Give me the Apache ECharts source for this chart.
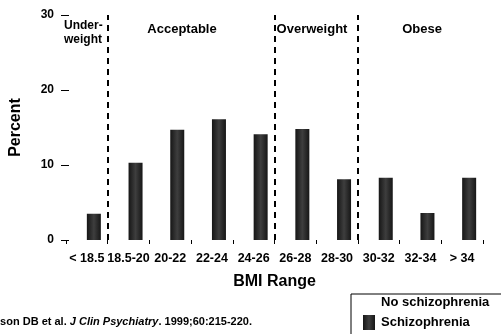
<!DOCTYPE html>
<html>
<head>
<meta charset="utf-8">
<script src="https://cdn.jsdelivr.net/npm/echarts@6/dist/echarts.min.js"></script>
<style>
html,body{margin:0;padding:0;background:#fff;}
#chart{width:501px;height:334px;}
</style>
</head>
<body>
<div id="chart"></div>
<script>
var categories = ['< 18.5', '18.5-20', '20-22', '22-24', '24-26', '26-28', '28-30', '30-32', '32-34', '> 34'];
var schizophrenia = [3.5, 10.3, 14.7, 16.1, 14.1, 14.8, 8.1, 8.3, 3.6, 8.3];
var noSchizophrenia = [];
var yTicks = [0, 10, 20, 30];
var regionBoundaries = [1, 5, 7];
var regionNames = ['Under-\nweight', 'Acceptable', 'Overweight', 'Obese'];
var seriesNames = ['No schizophrenia', 'Schizophrenia'];

var FONT = 'Liberation Sans, Arial, sans-serif';
var chart = echarts.init(document.getElementById('chart'), null, {renderer: 'canvas'});

var barGrad = new echarts.graphic.LinearGradient(0, 0, 1, 0, [
  {offset: 0, color: '#161616'},
  {offset: 0.5, color: '#3e3e3e'},
  {offset: 1, color: '#161616'}
]);

var boundaryLines = regionBoundaries.map(function (b) {
  return [{coord: [b, yTicks[0]]}, {coord: [b, yTicks[yTicks.length - 1]]}];
});

var option = {
  animation: false,
  backgroundColor: '#fff',
  textStyle: {fontFamily: FONT},
  grid: {left: 65, right: 18, top: 15, bottom: 94, containLabel: false},
  legend: {
    type: 'plain',
    orient: 'vertical',
    left: 351,
    top: 294,
    height: 80,
    padding: [1, 13, 12, 12],
    borderColor: '#000',
    borderWidth: 1,
    itemWidth: 12,
    itemHeight: 15,
    itemGap: 5,
    data: seriesNames.map(function (n) { return {name: n, icon: 'rect'}; }),
    textStyle: {fontFamily: FONT, fontWeight: 'bold', fontSize: 13, color: '#000', padding: [0, 0, 0, 1]}
  },
  xAxis: [{
    type: 'category',
    data: categories,
    axisLine: {show: false},
    axisTick: {show: true, length: 4, lineStyle: {color: '#000', width: 1}},
    axisLabel: {interval: 0, margin: 12, color: '#000', fontWeight: 'bold', fontSize: 12.5, fontFamily: FONT},
    name: 'BMI Range',
    nameLocation: 'middle',
    nameGap: 34,
    nameTextStyle: {color: '#000', fontWeight: 'bold', fontSize: 16, fontFamily: FONT}
  }, {
    type: 'value',
    min: 0,
    max: categories.length,
    show: false
  }],
  yAxis: {
    type: 'value',
    min: yTicks[0],
    max: yTicks[yTicks.length - 1],
    interval: 10,
    offset: -3,
    axisLine: {show: false},
    axisTick: {show: true, length: 8, lineStyle: {color: '#000', width: 1}},
    splitLine: {show: false},
    axisLabel: {margin: 15, color: '#000', fontWeight: 'bold', fontSize: 12, fontFamily: FONT},
    name: 'Percent',
    nameLocation: 'middle',
    nameGap: 45,
    nameRotate: 90,
    nameTextStyle: {color: '#000', fontWeight: 'bold', fontSize: 16, fontFamily: FONT}
  },
  series: [{
    name: seriesNames[0],
    type: 'bar',
    data: noSchizophrenia,
    barWidth: 14,
    barGap: '0%',
    itemStyle: {color: '#fff'}
  }, {
    name: seriesNames[1],
    type: 'bar',
    data: schizophrenia,
    barWidth: 14,
    barGap: '0%',
    itemStyle: {color: barGrad}
  }, {
    type: 'line',
    xAxisIndex: 1,
    data: [],
    silent: true,
    markLine: {
      silent: true,
      symbol: 'none',
      label: {show: false},
      lineStyle: {color: '#000', width: 2, type: [6, 5]},
      data: boundaryLines
    }
  }],
  graphic: [
    {type: 'text', left: 64, top: 19, style: {text: regionNames[0], fontFamily: FONT, fontWeight: 'bold', fontSize: 12, lineHeight: 14, fill: '#000'}},
    {type: 'text', x: 182, y: 29, style: {text: regionNames[1], fontFamily: FONT, fontWeight: 'bold', fontSize: 13, fill: '#000', align: 'center', verticalAlign: 'middle'}},
    {type: 'text', x: 312, y: 29, style: {text: regionNames[2], fontFamily: FONT, fontWeight: 'bold', fontSize: 13, fill: '#000', align: 'center', verticalAlign: 'middle'}},
    {type: 'text', x: 422, y: 29, style: {text: regionNames[3], fontFamily: FONT, fontWeight: 'bold', fontSize: 13, fill: '#000', align: 'center', verticalAlign: 'middle'}},
    {type: 'text', x: -17, y: 322, style: {
      text: '{b|Allison DB et al. }{i|J Clin Psychiatry}{b|. 1999;60:215-220.}',
      verticalAlign: 'middle',
      rich: {
        b: {fontFamily: FONT, fontWeight: 'bold', fontSize: 11, fill: '#000'},
        i: {fontFamily: FONT, fontWeight: 'bold', fontStyle: 'italic', fontSize: 11, fill: '#000'}
      }
    }}
  ]
};
chart.setOption(option);
</script>
</body>
</html>
